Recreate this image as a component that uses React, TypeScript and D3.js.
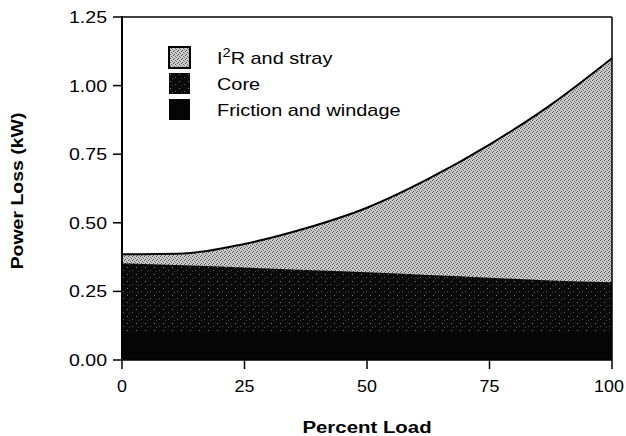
import React from "react";
import * as d3 from "d3";

const load = [0, 12.5, 25, 37.5, 50, 62.5, 75, 87.5, 100];
const frictionWindage = [0.1, 0.1, 0.1, 0.1, 0.1, 0.1, 0.1, 0.1, 0.1];
const core = [0.253, 0.245, 0.237, 0.228, 0.22, 0.21, 0.2, 0.19, 0.183];
const i2rStray = [0.032, 0.043, 0.086, 0.152, 0.235, 0.35, 0.485, 0.64, 0.817];
const xTicks = [0, 25, 50, 75, 100];
const yTicks = [0, 0.25, 0.5, 0.75, 1.0, 1.25];

const keys = ["friction", "core", "i2r"];

// the scanned lettering is a bit wider than Liberation Sans, so stretch it sideways
const SText = ({x, y, sx = 1.15, rotate = 0, children, ...rest}: any) => (
    <text transform={`translate(${x},${y}) rotate(${rotate}) scale(${sx},1)`} {...rest}>{children}</text>
);

export default function App() {
    const width = 626;
    const height = 436;
    const x = d3.scaleLinear([0, 100], [122, 612]);
    const y = d3.scaleLinear([0, 1.25], [360, 17]);

    const rows = load.map((l, i) => ({load: l, friction: frictionWindage[i], core: core[i], i2r: i2rStray[i]}));
    const series = d3.stack<any>().keys(keys)(rows);

    // each layer is filled down to zero and painted top-down, so no seams show between bands
    const area = d3.area<any>()
        .x(d => x(d.data.load))
        .y0(y(0))
        .y1(d => y(d[1]))
        .curve(d3.curveMonotoneX);
    const topLine = d3.line<any>()
        .x(d => x(d.data.load))
        .y(d => y(d[1]))
        .curve(d3.curveMonotoneX);

    const fills: Record<string, string> = {friction: "#050505", core: "url(#coreFill)", i2r: "url(#lightFill)"};
    const font = "'Liberation Sans', Arial, sans-serif";

    const legend = [
        {key: "i2r", label: "I2R"},
        {key: "core", label: "Core"},
        {key: "friction", label: "Friction and windage"},
    ];

    return (
        <svg width={width} height={height} style={{position: "absolute", left: 0, top: 0, background: "white"}}
             fontFamily={font}>
            <defs>
                <pattern id="lightFill" width={4} height={4} patternUnits="userSpaceOnUse">
                    <rect width={4} height={4} fill="#cbcbcb"/>
                    <rect x={0} y={0} width={1} height={1} fill="#555"/>
                    <rect x={2} y={1} width={1} height={1} fill="#666"/>
                    <rect x={1} y={3} width={1} height={1} fill="#555"/>
                    <rect x={3} y={2} width={1} height={1} fill="#777"/>
                </pattern>
                <pattern id="coreFill" width={9} height={7} patternUnits="userSpaceOnUse">
                    <rect width={9} height={7} fill="#0a0a0a"/>
                    <rect x={1} y={1} width={1} height={1} fill="#777"/>
                    <rect x={6} y={4} width={1} height={1} fill="#5a5a5a"/>
                    <rect x={3} y={5} width={1} height={1} fill="#444"/>
                </pattern>
            </defs>

            {[...series].reverse().map(s => (
                <path key={s.key} d={area(s) as string} fill={fills[s.key]}/>
            ))}
            <path d={topLine(series[2]) as string} fill="none" stroke="black" strokeWidth={2}/>

            {/* frame */}
            <line x1={x(0)} x2={x(100)} y1={y(1.25)} y2={y(1.25)} stroke="black" strokeWidth={1.5}/>
            <line x1={x(100)} x2={x(100)} y1={y(1.25)} y2={y(0)} stroke="black" strokeWidth={1.5}/>
            <line x1={x(0)} x2={x(100)} y1={y(0)} y2={y(0)} stroke="black" strokeWidth={1.5}/>
            <line x1={x(0)} x2={x(0)} y1={y(1.25) - 1} y2={y(0) + 1} stroke="black" strokeWidth={2}/>

            {yTicks.map(t => (
                <g key={t}>
                    <line x1={x(0) - 9} x2={x(0)} y1={y(t)} y2={y(t)} stroke="black" strokeWidth={1.5}/>
                    <SText x={107} y={y(t) + 6} textAnchor="end" fontSize={17}>{t.toFixed(2)}</SText>
                </g>
            ))}
            {xTicks.map(t => (
                <g key={t}>
                    <line x1={x(t)} x2={x(t)} y1={y(0)} y2={y(0) + 9} stroke="black" strokeWidth={1.5}/>
                    {/* keep "100" inside the page edge */}
                    <SText x={Math.min(x(t), width - 17)} y={392} sx={1.05} textAnchor="middle"
                           fontSize={17}>{t}</SText>
                </g>
            ))}

            <SText x={367} y={433} sx={1.2} textAnchor="middle" fontSize={17} fontWeight="bold">Percent Load</SText>
            <SText x={23} y={191} rotate={-90} sx={1.18} textAnchor="middle" fontSize={16.5}
                   fontWeight="bold">Power Loss (kW)</SText>

            {legend.map((d, i) => (
                <g key={d.key} transform={`translate(169,${47 + i * 26})`}>
                    <rect width={21} height={21} fill={fills[d.key]}
                          stroke={d.key === "i2r" ? "black" : "none"} strokeWidth={2}/>
                    <SText x={48} y={17} sx={1.17} fontSize={17}>
                        {d.key === "i2r" ? (
                            <>
                                I<tspan dy={-7} fontSize={12.5}>2</tspan><tspan dy={7}>R and stray</tspan>
                            </>
                        ) : d.label}
                    </SText>
                </g>
            ))}
        </svg>
    );
}
